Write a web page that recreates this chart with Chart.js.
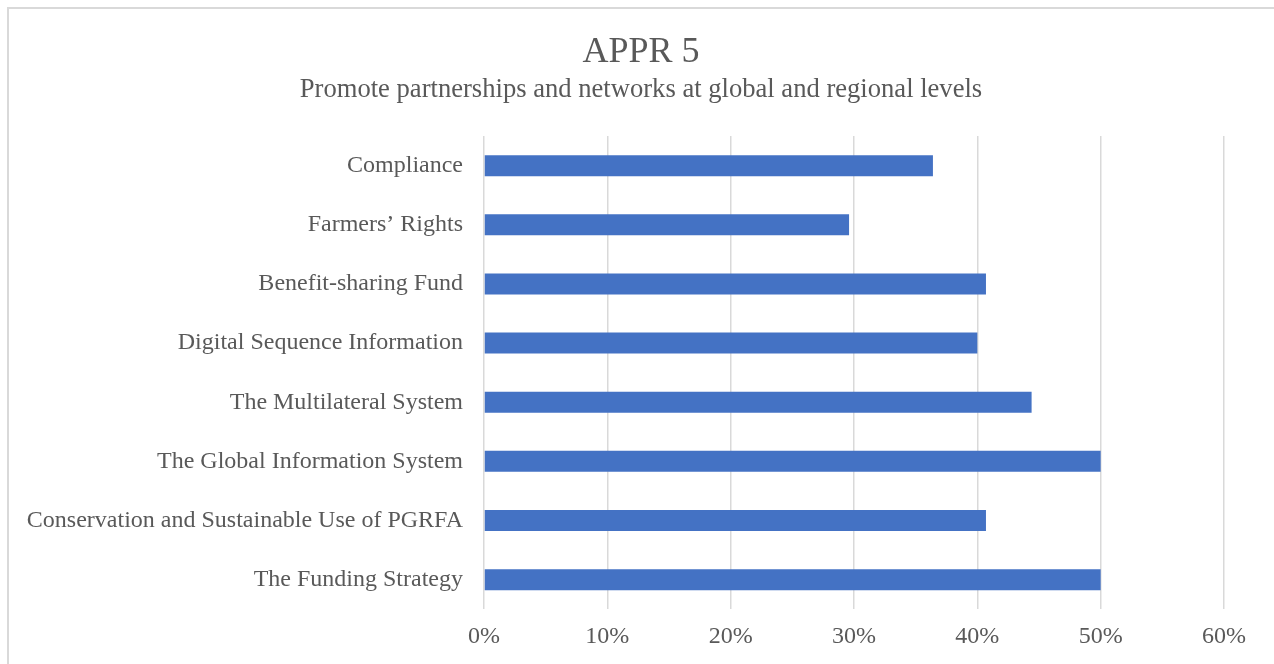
<!DOCTYPE html>
<html lang="en">
<head>
  <meta charset="UTF-8">
  <title>APPR 5</title>
  <script src="https://cdn.jsdelivr.net/npm/chart.js"></script>
  <style>
    html, body { margin: 0; padding: 0; background: #fff; overflow: hidden; }
    #wrap { position: relative; width: 1274px; height: 664px; overflow: hidden; }
    #frame { position: absolute; left: 7px; top: 7px; width: 1320px; height: 720px; border: 2px solid #d9d9d9; pointer-events: none; }
    canvas { position: absolute; left: 0; top: 0; }
  </style>
</head>
<body>
  <div id="wrap">
    <!-- canvas a bit wider than the window so the titles centre on the frame -->
    <canvas id="apprChart" width="1282" height="664"></canvas>
    <div id="frame"></div>
  </div>
  <script>
    const categories = [
      'Compliance',
      'Farmers\u2019 Rights',
      'Benefit-sharing Fund',
      'Digital Sequence Information',
      'The Multilateral System',
      'The Global Information System',
      'Conservation and Sustainable Use of PGRFA',
      'The Funding Strategy'
    ];
    const shares = [36.4, 29.6, 40.7, 40.0, 44.4, 50.0, 40.7, 50.0];
    const xTicks = [0, 10, 20, 30, 40, 50, 60];

    const serif = '"Liberation Serif", "Times New Roman", serif';
    const textGrey = '#595959';

    new Chart(document.getElementById('apprChart'), {
      type: 'bar',
      data: {
        labels: categories,
        datasets: [{
          data: shares,
          backgroundColor: '#4472C4',
          borderWidth: 0,
          barPercentage: 0.355,
          categoryPercentage: 1
        }]
      },
      options: {
        indexAxis: 'y',
        responsive: false,
        animation: false,
        layout: { padding: 0 },
        plugins: {
          legend: { display: false },
          tooltip: { enabled: false },
          title: {
            display: true,
            text: 'APPR 5',
            color: textGrey,
            font: { family: serif, size: 36, weight: 'normal' },
            padding: { top: 31, bottom: 0 }
          },
          subtitle: {
            display: true,
            text: 'Promote partnerships and networks at global and regional levels',
            color: textGrey,
            font: { family: serif, size: 26.6, weight: 'normal' },
            padding: { top: 0, bottom: 30 }
          }
        },
        scales: {
          x: {
            min: xTicks[0],
            max: xTicks[xTicks.length - 1],
            afterBuildTicks: (scale) => { scale.ticks = xTicks.map(v => ({ value: v })); },
            ticks: {
              color: textGrey,
              font: { family: serif, size: 24 },
              padding: 13,
              callback: (v) => v + '%'
            },
            grid: { color: '#d9d9d9', lineWidth: 1.5, drawTicks: false },
            border: { display: false }
          },
          y: {
            afterFit: (scale) => { scale.width = 484; },
            ticks: {
              color: textGrey,
              font: { family: serif, size: 24 },
              padding: 21
            },
            grid: { display: false, drawTicks: false },
            border: { display: false }
          },
          // empty spacer on the right so the plot ends at 60% = x 1224
          spacer: {
            type: 'category',
            position: 'right',
            afterFit: (scale) => { scale.width = 58; },
            ticks: { display: false },
            grid: { display: false, drawTicks: false },
            border: { display: false }
          }
        }
      }
    });
  </script>
</body>
</html>
